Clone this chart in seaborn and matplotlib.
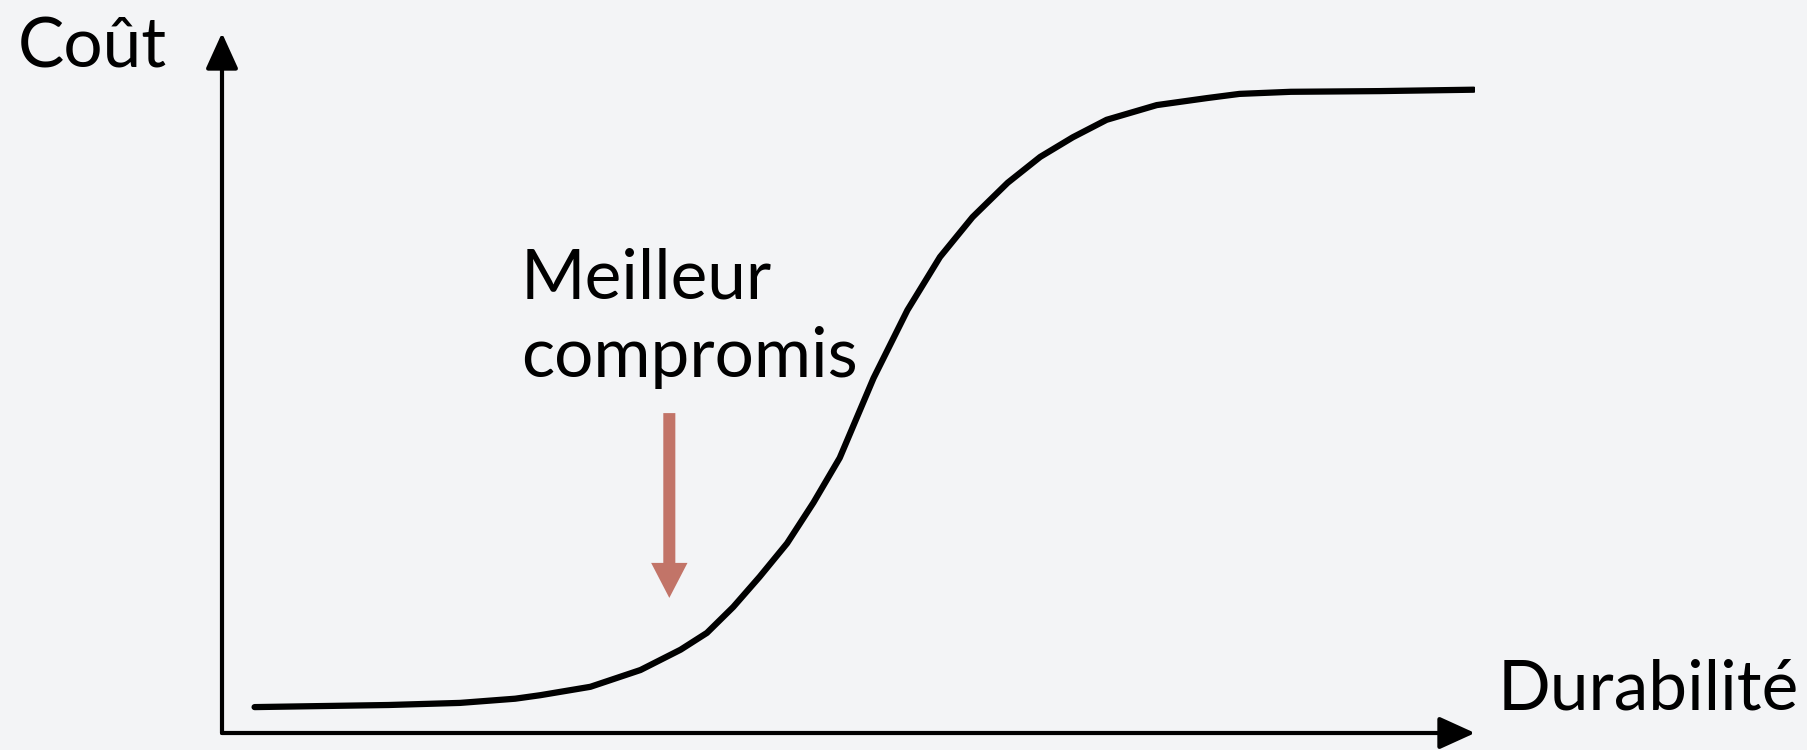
import matplotlib
matplotlib.use("Agg")
import matplotlib.pyplot as plt
import seaborn as sns

# curve (arbitrary units, 0-100 on both axes)
durability = [2.6, 13.3, 19.0, 23.4, 25.4, 29.4, 33.4, 36.6, 38.7, 40.8,
              42.9, 45.1, 47.2, 49.3, 52.0, 54.7, 57.3, 59.9, 62.7, 65.3,
              67.9, 70.6, 74.6, 78.6, 81.2, 85.3, 92.4, 99.9]
cost = [3.7, 4.0, 4.3, 4.9, 5.4, 6.6, 9.0, 11.9, 14.3, 18.0,
        22.3, 27.1, 32.9, 39.3, 50.7, 60.4, 68.0, 73.7, 78.6, 82.3,
        85.1, 87.6, 89.7, 90.7, 91.3, 91.6, 91.7, 91.9]

# "best compromise" marker
best_x = 35.7
best_tip = 19.3
best_tail = 45.7

y_label = "Coût"
x_label = "Durabilité"
note = "Meilleur\ncompromis"

BG = "#f3f4f6"
RED = "#c27468"


def main():
    sns.set_theme(style="white")
    plt.rcParams["font.family"] = ["Lato", "DejaVu Sans"]
    plt.rcParams["text.color"] = "black"

    fig = plt.figure(figsize=(18.08, 7.5), dpi=100, facecolor=BG)
    ax = fig.add_axes([222 / 1808, 17 / 750, 1253 / 1808, 700 / 750])
    ax.set_facecolor(BG)
    ax.set_xlim(0, 100)
    ax.set_ylim(0, 100)
    for s in ax.spines.values():
        s.set_visible(False)
    ax.set_xticks([])
    ax.set_yticks([])

    sns.lineplot(x=durability, y=cost, ax=ax, color="black", linewidth=4.5,
                 legend=False, solid_joinstyle="round",
                 solid_capstyle="round")
    ax.set_xlabel("")
    ax.set_ylabel("")

    # axes drawn as arrows
    arrow = dict(arrowstyle="-|>,head_length=0.55,head_width=0.25",
                 color="black", lw=3, mutation_scale=40,
                 shrinkA=0, shrinkB=0)
    ax.annotate("", xy=(1, 0), xytext=(0, 0), xycoords="axes fraction",
                arrowprops=arrow, annotation_clip=False)
    ax.annotate("", xy=(0, 1), xytext=(0, 0), xycoords="axes fraction",
                arrowprops=arrow, annotation_clip=False)

    ax.arrow(best_x, best_tail, 0, best_tip - best_tail, width=0.96,
             head_width=2.9, head_length=5.0, length_includes_head=True,
             color=RED, linewidth=0)

    fig.text(18 / 1808, 1 - 67 / 750, y_label, fontsize=50, va="baseline")
    fig.text(1498 / 1808, 1 - 710 / 750, x_label, fontsize=50,
             va="baseline")
    fig.text(521 / 1808, 1 - 377 / 750, note, fontsize=50, va="baseline",
             linespacing=1.3)

    fig.savefig("out.png", dpi=100, facecolor=BG)


if __name__ == "__main__":
    main()
